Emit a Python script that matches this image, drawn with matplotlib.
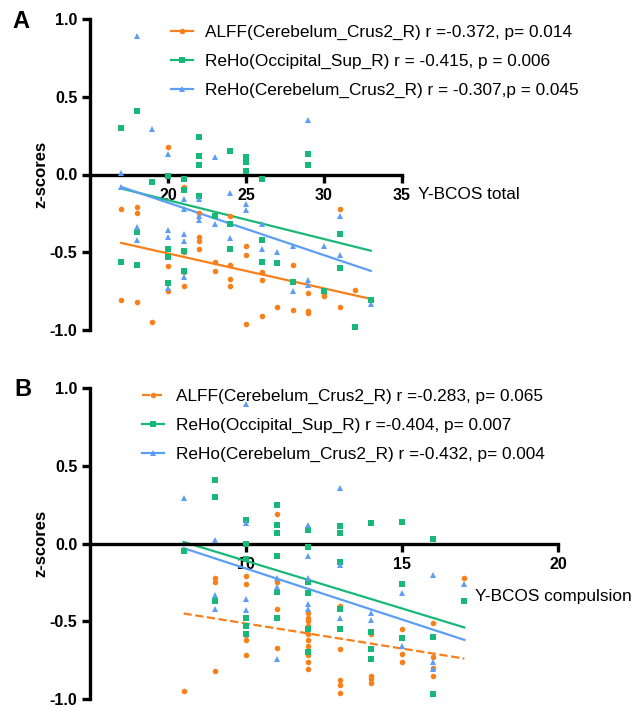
import numpy as np
import matplotlib
matplotlib.use('Agg')
import matplotlib.pyplot as plt
from matplotlib.lines import Line2D

plt.rcParams['font.family'] = ['Liberation Sans', 'DejaVu Sans']

# === colours ===
C_ALFF = '#F8801A'
C_OCC = '#18B978'
C_CER = '#5C9EF5'

# === Panel A: Y-BCOS total (x column -> z-scores) ===
alff_total = {17: [-0.22, -0.81], 18: [-0.21, -0.25, -0.82], 19: [-0.95],
              20: [0.18, -0.59, -0.75], 21: [-0.08, -0.50, -0.63, -0.72],
              22: [-0.25, -0.40, -0.43, -0.48], 23: [-0.56, -0.62],
              24: [-0.27, -0.48, -0.58, -0.67, -0.72], 25: [-0.46, -0.52, -0.96],
              26: [-0.63, -0.68, -0.91], 27: [-0.85], 28: [-0.58, -0.87],
              29: [-0.76, -0.88, -0.89], 30: [-0.76, -0.78], 31: [-0.22, -0.85],
              32: [-0.74], 33: [-0.81]}
occ_total = {17: [0.30, -0.56], 18: [0.41, -0.37, -0.58], 19: [-0.05],
             20: [-0.01, -0.48, -0.53, -0.70], 21: [-0.03, -0.10, -0.49, -0.62],
             22: [0.24, 0.12, 0.06, -0.14], 23: [-0.27], 24: [0.15, -0.32, -0.48],
             25: [0.11, 0.08, 0.02], 26: [-0.03, -0.42, -0.56], 27: [-0.57],
             28: [-0.69], 29: [0.13, 0.06], 30: [-0.75], 31: [-0.38, -0.60],
             32: [-0.98], 33: [-0.81]}
cer_total = {17: [0.01, -0.08], 18: [0.89, -0.34, -0.42], 19: [0.29],
             20: [0.13, -0.36, -0.40, -0.73], 21: [-0.16, -0.22, -0.38, -0.43, -0.66],
             22: [-0.16, -0.27, -0.29], 23: [0.11, -0.32], 24: [-0.12, -0.41],
             25: [-0.19, -0.23], 26: [-0.32, -0.48], 27: [-0.50], 28: [-0.46, -0.75],
             29: [0.35, -0.68, -0.71], 30: [-0.46], 31: [-0.27, -0.52], 33: [-0.83]}
# fitted lines, read at the ends of the x range
fit_x_total = [17, 33]
fit_alff_total = [-0.44, -0.80]
fit_occ_total = [-0.09, -0.49]
fit_cer_total = [-0.08, -0.62]

# === Panel B: Y-BCOS compulsion ===
alff_comp = {8: [-0.95], 9: [-0.22, -0.25, -0.82], 10: [-0.21, -0.26, -0.59, -0.62, -0.72],
             11: [0.19, -0.08, -0.25, -0.42, -0.48, -0.67],
             12: [-0.45, -0.48, -0.50, -0.53, -0.58, -0.62, -0.66, -0.72, -0.76, -0.81],
             13: [-0.40, -0.68, -0.88, -0.91, -0.96], 14: [-0.58, -0.85, -0.87, -0.90],
             15: [-0.55, -0.71, -0.76], 16: [-0.51, -0.73, -0.80, -0.85], 17: [-0.22]}
occ_comp = {8: [-0.05], 9: [0.41, 0.30, -0.37], 10: [0.15, 0.00, -0.10, -0.48, -0.53, -0.58],
            11: [0.25, 0.12, 0.07, -0.08, -0.31, -0.48],
            12: [0.09, -0.02, -0.25, -0.32, -0.55, -0.70],
            13: [0.11, 0.07, -0.12, -0.42, -0.55], 14: [0.13, -0.57, -0.68, -0.74],
            15: [0.14, -0.26, -0.61], 16: [0.03, -0.60, -0.97], 17: [-0.37]}
cer_comp = {8: [0.29], 9: [0.02, -0.33, -0.42], 10: [0.90, 0.13, -0.36, -0.43],
            11: [-0.22, -0.28, -0.74], 12: [0.12, -0.08, -0.22, -0.39, -0.42],
            13: [0.36, -0.14, -0.48], 14: [-0.45, -0.49], 15: [-0.32, -0.66],
            16: [-0.20, -0.76, -0.81], 17: [-0.26]}
fit_x_comp = [8, 17]
fit_alff_comp = [-0.45, -0.74]
fit_occ_comp = [0.01, -0.54]
fit_cer_comp = [-0.03, -0.62]

labels_total = ['ALFF(Cerebelum_Crus2_R) r =-0.372, p= 0.014',
                'ReHo(Occipital_Sup_R) r = -0.415, p = 0.006',
                'ReHo(Cerebelum_Crus2_R) r = -0.307,p = 0.045']
labels_comp = ['ALFF(Cerebelum_Crus2_R) r =-0.283, p= 0.065',
               'ReHo(Occipital_Sup_R) r =-0.404, p= 0.007',
               'ReHo(Cerebelum_Crus2_R) r =-0.432, p= 0.004']

MS = 4.0


def expand(cols):
    xs, ys = [], []
    for x, vals in cols.items():
        xs += [x] * len(vals)
        ys += vals
    return np.array(xs), np.array(ys)


def style_axes(ax, xlim, xticks):
    ax.set_xlim(*xlim)
    ax.set_ylim(-1.0, 1.0)
    ax.spines['top'].set_visible(False)
    ax.spines['right'].set_visible(False)
    ax.spines['bottom'].set_position(('data', 0))
    for s in ('left', 'bottom'):
        ax.spines[s].set_linewidth(2.4)
    ax.set_xticks(xticks)
    ax.set_yticks([-1.0, -0.5, 0.0, 0.5, 1.0])
    ax.set_yticklabels(['-1.0', '-0.5', '0.0', '0.5', '1.0'])
    ax.tick_params(axis='both', width=2.4, length=6, labelsize=11.5, pad=3)
    ax.tick_params(axis='x', pad=4)
    for lab in ax.get_xticklabels() + ax.get_yticklabels():
        lab.set_fontweight('bold')
    ax.set_ylabel('z-scores', fontsize=12, fontweight='bold')


def draw_panel(ax, series, fit_x, fits, styles):
    for (cols, color, marker), fy, ls in zip(series, fits, styles):
        x, y = expand(cols)
        ax.plot(x, y, linestyle='none', marker=marker, color=color,
                markersize=MS, markeredgewidth=0, clip_on=False, zorder=3)
        ax.plot(fit_x, fy, color=color, linewidth=1.6, linestyle=ls, zorder=2)


def add_legend(ax, fig, labels, styles, anchor):
    markers = ['o', 's', '^']
    colors = [C_ALFF, C_OCC, C_CER]
    handles = [Line2D([0], [0], color=c, marker=m, markersize=MS, linewidth=1.6,
                      linestyle=ls, markeredgewidth=0)
               for c, m, ls in zip(colors, markers, styles)]
    ax.legend(handles, labels, loc='upper left', bbox_to_anchor=anchor,
              bbox_transform=fig.transFigure, frameon=False, fontsize=12.4,
              handlelength=1.3, handletextpad=0.65, labelspacing=0.8,
              borderpad=0, borderaxespad=0, numpoints=1)


W, H = 635, 707
fig = plt.figure(figsize=(W / 100, H / 100), dpi=100)

axA = fig.add_axes([90 / W, 1 - 330 / H, 312 / W, 311 / H])
axB = fig.add_axes([90 / W, 1 - 699 / H, 468 / W, 311 / H])

stylesA = ['-', '-', '-']
draw_panel(axA, [(alff_total, C_ALFF, 'o'), (occ_total, C_OCC, 's'), (cer_total, C_CER, '^')],
           fit_x_total, [fit_alff_total, fit_occ_total, fit_cer_total], stylesA)
style_axes(axA, (15, 35), [20, 25, 30, 35])
axA.yaxis.set_label_coords(-0.135, 0.5)
add_legend(axA, fig, labels_total, stylesA, (171 / W, 1 - 25 / H))
axA.annotate('Y-BCOS total', xy=(35, 0), xycoords='data', xytext=(16, -20),
             textcoords='offset pixels', fontsize=12.4, va='center', ha='left',
             annotation_clip=False)

stylesB = ['--', '-', '-']
draw_panel(axB, [(alff_comp, C_ALFF, 'o'), (occ_comp, C_OCC, 's'), (cer_comp, C_CER, '^')],
           fit_x_comp, [fit_alff_comp, fit_occ_comp, fit_cer_comp], stylesB)
style_axes(axB, (5, 20), [10, 15, 20])
axB.yaxis.set_label_coords(-0.09, 0.5)
add_legend(axB, fig, labels_comp, stylesB, (142 / W, 1 - 389 / H))
axB.text(17.35, -0.34, 'Y-BCOS compulsion', fontsize=12.4, va='center', ha='left',
         clip_on=False)

fig.text(12 / W, 1 - 22 / H, 'A', fontsize=17, fontweight='bold', va='center')
fig.text(14 / W, 1 - 389 / H, 'B', fontsize=17, fontweight='bold', va='center')

fig.savefig('out.png', dpi=100)
